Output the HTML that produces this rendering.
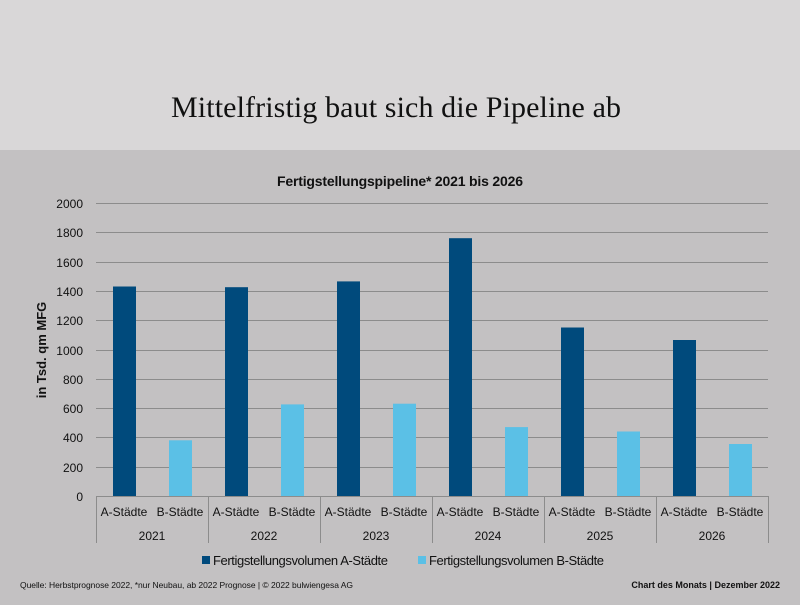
<!DOCTYPE html>
<html><head><meta charset="utf-8"><style>
body{margin:0;width:800px;height:600px;overflow:hidden;background:#c3c1c2;font-family:"Liberation Sans",sans-serif}
</style></head><body>
<svg width="800" height="600" xmlns="http://www.w3.org/2000/svg" font-family="Liberation Sans, sans-serif">
<rect x="0" y="0" width="800" height="150" fill="#d9d7d8"/>
<rect x="0" y="150" width="800" height="450" fill="#c3c1c2"/>
<text x="396" y="117" font-family="Liberation Serif, serif" font-size="30" text-anchor="middle" fill="#111" textLength="450">Mittelfristig baut sich die Pipeline ab</text>
<text x="400" y="186" font-size="14" font-weight="bold" text-anchor="middle" fill="#111" textLength="246">Fertigstellungspipeline* 2021 bis 2026</text>
<g stroke="#8c8c8c" stroke-width="1">
<line x1="96" x2="768" y1="203.5" y2="203.5"/><line x1="96" x2="768" y1="232.5" y2="232.5"/>
<line x1="96" x2="768" y1="262.5" y2="262.5"/><line x1="96" x2="768" y1="291.5" y2="291.5"/>
<line x1="96" x2="768" y1="320.5" y2="320.5"/><line x1="96" x2="768" y1="350.5" y2="350.5"/>
<line x1="96" x2="768" y1="379.5" y2="379.5"/><line x1="96" x2="768" y1="408.5" y2="408.5"/>
<line x1="96" x2="768" y1="437.5" y2="437.5"/><line x1="96" x2="768" y1="467.5" y2="467.5"/>
<line x1="96" x2="768" y1="496.5" y2="496.5"/>
<line x1="96.5" x2="96.5" y1="496" y2="543"/><line x1="208.5" x2="208.5" y1="496" y2="543"/>
<line x1="320.5" x2="320.5" y1="496" y2="543"/><line x1="432.5" x2="432.5" y1="496" y2="543"/>
<line x1="544.5" x2="544.5" y1="496" y2="543"/><line x1="656.5" x2="656.5" y1="496" y2="543"/>
<line x1="768.5" x2="768.5" y1="496" y2="543"/>
</g>
<g font-size="12" fill="#111" text-anchor="end">
<text x="83" y="208">2000</text><text x="83" y="237">1800</text><text x="83" y="267">1600</text>
<text x="83" y="296">1400</text><text x="83" y="325">1200</text><text x="83" y="355">1000</text>
<text x="83" y="384">800</text><text x="83" y="413">600</text><text x="83" y="442">400</text>
<text x="83" y="472">200</text><text x="83" y="501">0</text>
</g>
<text transform="translate(46 350) rotate(-90)" font-size="13" font-weight="bold" text-anchor="middle" fill="#111">in Tsd. qm MFG</text>
<g fill="#004a7c">
<rect x="113" y="286.5" width="23" height="209.5"/>
<rect x="225" y="287.2" width="23" height="208.8"/>
<rect x="337" y="281.4" width="23" height="214.6"/>
<rect x="449" y="238.2" width="23" height="257.8"/>
<rect x="561" y="327.5" width="23" height="168.5"/>
<rect x="673" y="340" width="23" height="156"/>
</g>
<g fill="#5bc0e6">
<rect x="169" y="440.3" width="23" height="55.7"/>
<rect x="281" y="404.4" width="23" height="91.6"/>
<rect x="393" y="403.7" width="23" height="92.3"/>
<rect x="505" y="427.1" width="23" height="68.9"/>
<rect x="617" y="431.5" width="23" height="64.5"/>
<rect x="729" y="444" width="23" height="52"/>
</g>
<g font-size="12" fill="#111" text-anchor="middle">
<text x="124" y="516">A-Städte</text><text x="180" y="516">B-Städte</text>
<text x="236" y="516">A-Städte</text><text x="292" y="516">B-Städte</text>
<text x="348" y="516">A-Städte</text><text x="404" y="516">B-Städte</text>
<text x="460" y="516">A-Städte</text><text x="516" y="516">B-Städte</text>
<text x="572" y="516">A-Städte</text><text x="628" y="516">B-Städte</text>
<text x="684" y="516">A-Städte</text><text x="740" y="516">B-Städte</text>
<text x="152" y="540">2021</text><text x="264" y="540">2022</text><text x="376" y="540">2023</text>
<text x="488" y="540">2024</text><text x="600" y="540">2025</text><text x="712" y="540">2026</text>
</g>
<rect x="202" y="556" width="8" height="8" fill="#004a7c"/>
<text x="213" y="565" font-size="13" fill="#111" textLength="175">Fertigstellungsvolumen A-Städte</text>
<rect x="418" y="556" width="8" height="8" fill="#5bc0e6"/>
<text x="429" y="565" font-size="13" fill="#111" textLength="175">Fertigstellungsvolumen B-Städte</text>
<text x="20" y="588" font-size="8.5" fill="#111" textLength="333">Quelle: Herbstprognose 2022, *nur Neubau, ab 2022 Prognose | © 2022 bulwiengesa AG</text>
<text x="780" y="588" font-size="9" font-weight="bold" text-anchor="end" fill="#111">Chart des Monats | Dezember 2022</text>
</svg>
</body></html>
